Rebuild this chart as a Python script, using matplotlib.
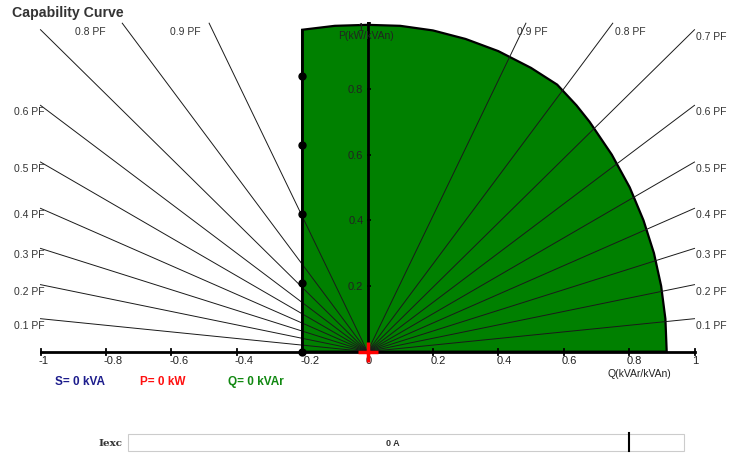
import numpy as np
import matplotlib
matplotlib.use('Agg')
import matplotlib.pyplot as plt
from matplotlib.patches import Polygon, Rectangle

plt.rcParams['font.family'] = ['Liberation Sans', 'DejaVu Sans']

# power factor lines
pf_values = [0.1, 0.2, 0.3, 0.4, 0.5, 0.6, 0.7, 0.8, 0.9]
pf_left_labels = [0.1, 0.2, 0.3, 0.4, 0.5, 0.6, 0.8, 0.9]

x_ticks = [-1, -0.8, -0.6, -0.4, -0.2, 0, 0.2, 0.4, 0.6, 0.8, 1]
y_ticks = [0.2, 0.4, 0.6, 0.8, 1]

# capability region boundary (Q, P)
q_min = -0.2
boundary_q = [-0.20, -0.10, 0.00, 0.10, 0.20, 0.30, 0.40, 0.50, 0.58,
              0.639, 0.679, 0.747, 0.802, 0.844, 0.876, 0.898, 0.911, 0.915]
boundary_p = [0.980, 0.992, 0.995, 0.992, 0.978, 0.952, 0.915, 0.864, 0.813,
              0.75, 0.70, 0.60, 0.50, 0.40, 0.30, 0.20, 0.10, 0.0]
limit_dots_p = [0, 0.21, 0.42, 0.63, 0.84]

# operating point
s_val, p_val, q_val = 0, 0, 0
iexc_text = '0 A'
iexc_marker = 0.901  # fraction of the bar

W, H = 732, 454
fig = plt.figure(figsize=(W / 100, H / 100), dpi=100)
ax = fig.add_axes([0, 0, 1, 1])
x0, sx = 367.5, 327.0
y0, sy = 351.7, 328.5
ax.set_xlim(-x0 / sx, (W - x0) / sx)
ax.set_ylim(-(H - y0) / sy, y0 / sy)
ax.axis('off')


def fx(px):
    return px / W


def fy(py):
    return 1 - py / H


# green region
pts = [(q_min, 0)] + list(zip(boundary_q, boundary_p))
ax.add_patch(Polygon(pts, closed=True, facecolor='#008000', edgecolor='black',
                     lw=1.6, zorder=1))
ax.plot([q_min, q_min], [0, boundary_p[0]], color='black', lw=2, zorder=3)

# PF lines
top_dx = {(1, 0.8): 2, (1, 0.9): -9, (-1, 0.8): -17, (-1, 0.9): -9}
for pf in pf_values:
    qd = np.sqrt(1 - pf ** 2)
    t = 1 / max(qd, pf)
    for side in (1, -1):
        qe, pe = side * qd * t, pf * t
        ax.plot([0, qe], [0, pe], color='#1a1a1a', lw=0.7, zorder=2)
        if side == -1 and pf not in pf_left_labels:
            continue
        if abs(qe) >= 0.999:
            dx = 1 if side == 1 else 4
            dy = -7
        else:
            dx = top_dx[(side, pf)]
            dy = -9
        ax.annotate(f'{pf} PF', (qe, pe), xytext=(dx, dy),
                    textcoords='offset pixels', fontsize=7.5, color='#333333',
                    ha='left' if side == 1 else 'right', va='center')

# axes
ax.plot([-1, 1], [0, 0], color='black', lw=2, zorder=4)
ax.plot([0, 0], [0, 1], color='black', lw=2, zorder=4)
for xt in x_ticks:
    ax.plot([xt, xt], [-0.009, 0.009], color='black', lw=1.3, zorder=4)
    ax.annotate(f'{xt:g}', (xt, 0), xytext=(-2, -9), textcoords='offset pixels',
                fontsize=8, color='#222222', ha='left', va='center')
for yt in y_ticks:
    ax.plot([0, 0.008], [yt, yt], color='black', lw=1.3, zorder=4)
    ax.annotate(f'{yt:g}', (0, yt), xytext=(-4, -1 if yt < 1 else -5),
                textcoords='offset pixels', fontsize=8, color='#222222',
                ha='right', va='center')
ax.text(-0.005, 0.962, 'P(kW/kVAn)', fontsize=7.5, color='#222222',
        ha='center', va='center', zorder=5)
ax.text(0.83, -0.068, 'Q(kVAr/kVAn)', fontsize=7.5, color='#222222',
        ha='center', va='center')

# limit dots and operating point
ax.plot([q_min] * len(limit_dots_p), limit_dots_p, 'o', color='black', ms=5, zorder=5)
ax.plot([q_val], [p_val], '+', color='red', ms=14, mew=2.5, zorder=6)

# texts
fig.text(fx(12), fy(13), 'Capability Curve', fontsize=10.2, fontweight='bold',
         color='#333333', ha='left', va='center')
fig.text(fx(55), fy(382), f'S= {s_val} kVA', fontsize=8.5, fontweight='bold',
         color='#1c1c8c', ha='left', va='center')
fig.text(fx(140), fy(382), f'P= {p_val} kW', fontsize=8.5, fontweight='bold',
         color='#ff1010', ha='left', va='center')
fig.text(fx(228), fy(382), f'Q= {q_val} kVAr', fontsize=8.5, fontweight='bold',
         color='#118811', ha='left', va='center')

# excitation bar
bx0, bx1, by0, by1 = 128, 684, 434, 451
fig.patches.append(Rectangle((fx(bx0), fy(by1)), fx(bx1 - bx0), (by1 - by0) / H,
                             transform=fig.transFigure, facecolor='white',
                             edgecolor='#cccccc', lw=0.8))
mx = bx0 + iexc_marker * (bx1 - bx0)
fig.add_artist(plt.Line2D([fx(mx), fx(mx)], [fy(by1), fy(by0 - 1)],
                          transform=fig.transFigure, color='black', lw=1.5))
fig.text(fx(393), fy(443), iexc_text, fontsize=6.5, fontweight='bold',
         color='#333333', ha='center', va='center')
fig.text(fx(122), fy(443), 'Iexc', fontsize=7.5, fontweight='bold',
         family=['DejaVu Serif'], color='#333333',
         ha='right', va='center')

fig.savefig('out.png', dpi=100)
